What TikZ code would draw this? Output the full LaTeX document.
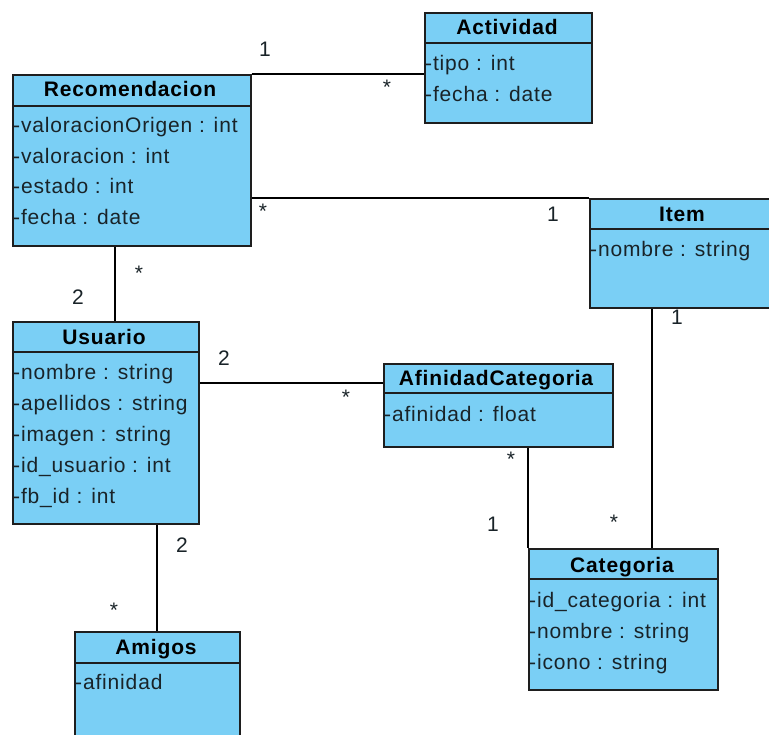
\documentclass[tikz,border=0pt]{standalone}
\usepackage{fontspec}
\setmainfont{Liberation Sans}[LetterSpace=4]
\usetikzlibrary{calc}
\definecolor{boxfill}{RGB}{122,207,245}
\definecolor{boxline}{RGB}{30,30,30}
\definecolor{txt}{RGB}{25,35,40}
\begin{document}
\begin{tikzpicture}[x=1pt,y=-1pt,
  classbox/.style={draw=boxline, line width=1.6pt, fill=boxfill, inner sep=0pt, anchor=north west},
  title/.style={font=\bfseries\fontsize{21}{23}\selectfont, anchor=base, text=black, inner sep=0pt},
  attr/.style={font=\fontsize{21}{23}\selectfont, anchor=base west, text=txt, inner sep=0pt},
  mult/.style={font=\fontsize{21}{23}\selectfont, anchor=base, text=txt, inner sep=0pt},
  assoc/.style={draw=black, line width=1.4pt},
  divider/.style={draw=boxline, line width=1.4pt}]
\useasboundingbox (0,0) rectangle (769,735);
\fill[white] (0,0) rectangle (769,735);

% boxes
\node[classbox, minimum width=167pt, minimum height=110pt] (act) at (424,12) {};
\node[classbox, minimum width=238pt, minimum height=171pt] (rec) at (12,74) {};
\node[classbox, minimum width=183pt, minimum height=109pt] (item) at (589,198) {};
\node[classbox, minimum width=186pt, minimum height=202pt] (usu) at (12,321) {};
\node[classbox, minimum width=229pt, minimum height=83pt] (afi) at (383,363) {};
\node[classbox, minimum width=189pt, minimum height=141pt] (cat) at (528,548) {};
\node[classbox, minimum width=165pt, minimum height=115pt] (ami) at (74,631) {};

\coordinate (ru) at ($(rec.south west)+(103,0)$);
\coordinate (ua) at ($(afi.north west)+(0,20)$);
\coordinate (ic) at ($(cat.north west)+(124,0)$);
\coordinate (ua2) at ($(ami.north west)+(83,0)$);

% connectors
\draw[assoc] (rec.north east) -- (rec.north east -| act.west);
\draw[assoc] (item.north west) -- (item.north west -| rec.east);
\draw[assoc] (ru) -- (ru |- usu.north);
\draw[assoc] (ua) -- (ua -| usu.east);
\draw[assoc] (cat.north west) -- (cat.north west |- afi.south);
\draw[assoc] (ic) -- (ic |- item.south);
\draw[assoc] (ua2) -- (ua2 |- usu.south);

% dividers
\draw[divider] ($(act.north west)+(0,31)$) -- ($(act.north east)+(0,31)$);
\draw[divider] ($(rec.north west)+(0,32)$) -- ($(rec.north east)+(0,32)$);
\draw[divider] ($(item.north west)+(0,31)$) -- ($(item.north east)+(0,31)$);
\draw[divider] ($(usu.north west)+(0,31)$) -- ($(usu.north east)+(0,31)$);
\draw[divider] ($(afi.north west)+(0,30)$) -- ($(afi.north east)+(0,30)$);
\draw[divider] ($(cat.north west)+(0,31)$) -- ($(cat.north east)+(0,31)$);
\draw[divider] ($(ami.north west)+(0,32)$) -- ($(ami.north east)+(0,32)$);

% titles
\node[title] (act-t) at (507,35) {Actividad};
\node[title] (rec-t) at (130,97) {Recomendacion};
\node[title] (item-t) at (682,222) {Item};
\node[title] (usu-t) at (104,345) {Usuario};
\node[title] (afi-t) at (496,386) {AfinidadCategoria};
\node[title] (cat-t) at (622,572) {Categoria};
\node[title] (ami-t) at (156,654) {Amigos};

% attributes
\node[attr] (act-a1) at (425,71) {-tipo : int};
\node[attr] (act-a2) at (425,102) {-fecha : date};
\node[attr] (rec-a1) at (13,133) {-valoracionOrigen : int};
\node[attr] (rec-a2) at (13,164) {-valoracion : int};
\node[attr] (rec-a3) at (13,194) {-estado : int};
\node[attr] (rec-a4) at (13,225) {-fecha : date};
\node[attr] (item-a1) at (590,257) {-nombre : string};
\node[attr] (usu-a1) at (13,380) {-nombre : string};
\node[attr] (usu-a2) at (13,411) {-apellidos : string};
\node[attr] (usu-a3) at (13,442) {-imagen : string};
\node[attr] (usu-a4) at (13,472) {-id\_usuario : int};
\node[attr] (usu-a5) at (13,503) {-fb\_id : int};
\node[attr] (afi-a1) at (384,421) {-afinidad : float};
\node[attr] (cat-a1) at (529,607) {-id\_categoria : int};
\node[attr] (cat-a2) at (529,638) {-nombre : string};
\node[attr] (cat-a3) at (529,669) {-icono : string};
\node[attr] (ami-a1) at (75,689) {-afinidad};

% multiplicities
\node[mult] (m1) at (265,57) {1};
\node[mult] (m2) at (387,95) {*};
\node[mult] (m3) at (263,219) {*};
\node[mult] (m4) at (553,222) {1};
\node[mult] (m5) at (78,305) {2};
\node[mult] (m6) at (139,281) {*};
\node[mult] (m7) at (224,366) {2};
\node[mult] (m8) at (346,405) {*};
\node[mult] (m9) at (182,552) {2};
\node[mult] (m10) at (114,617) {*};
\node[mult] (m11) at (511,467) {*};
\node[mult] (m12) at (493,531) {1};
\node[mult] (m13) at (614,529) {*};
\node[mult] (m14) at (677,325) {1};
\end{tikzpicture}
\end{document}
